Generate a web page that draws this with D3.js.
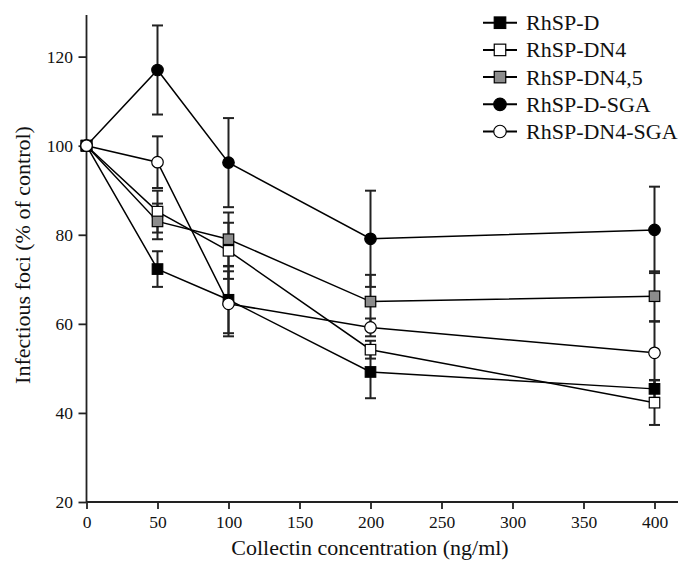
<!DOCTYPE html>
<html>
<head>
<meta charset="utf-8">
<script src="https://cdn.jsdelivr.net/npm/d3@7"></script>
<style>
  body { margin: 0; background: #fff; }
</style>
</head>
<body>
<svg width="680" height="562"></svg>
<script>
// concentrations (ng/ml)
var conc = [0, 50, 100, 200, 400];

var names = ["RhSP-D", "RhSP-DN4", "RhSP-DN4,5", "RhSP-D-SGA", "RhSP-DN4-SGA"];

// mean values (% of control)
var rhspD       = [100, 72.3, 65.4, 49.2, 45.4];
var rhspDN4     = [100, 85.2, 76.4, 54.2, 42.3];
var rhspDN45    = [100, 83.0, 79.0, 65.0, 66.2];
var rhspDSGA    = [100, 117.0, 96.2, 79.1, 81.1];
var rhspDN4SGA  = [100, 96.3, 64.5, 59.2, 53.5];

// error bars (+/-)
var errD       = [0, 4.0, 7.5, 5.9, 2.0];
var errDN4     = [0, 4.7, 6.3, 2.0, 5.0];
var errDN45    = [0, 4.0, 6.0, 6.0, 5.6];
var errDSGA    = [0, 10.0, 10.0, 10.8, 9.7];
var errDN4SGA  = [0, 5.8, 7.3, 2.0, 7.0];

var xTicks = [0, 50, 100, 150, 200, 250, 300, 350, 400];
var yTicks = [20, 40, 60, 80, 100, 120];

var series = [
  {name: names[0], vals: rhspD,      err: errD,      shape: "square", fill: "#000"},
  {name: names[1], vals: rhspDN4,    err: errDN4,    shape: "square", fill: "#fff"},
  {name: names[2], vals: rhspDN45,   err: errDN45,   shape: "square", fill: "#8c8c8c"},
  {name: names[3], vals: rhspDSGA,   err: errDSGA,   shape: "circle", fill: "#000"},
  {name: names[4], vals: rhspDN4SGA, err: errDN4SGA, shape: "circle", fill: "#fff"}
];

var serif = "'Liberation Serif', 'Times New Roman', 'DejaVu Serif', serif";

var svg = d3.select("svg");
var x0 = 86.5, yBottom = 502;

var x = d3.scaleLinear().domain([0, 400]).range([x0, 654.5]);
var y = d3.scaleLinear().domain([20, 100]).range([yBottom, 145.7]);

// axes
var xAxis = svg.append("g")
  .attr("transform", "translate(0," + yBottom + ")")
  .call(d3.axisBottom(x).tickValues(xTicks).tickSize(7).tickSizeOuter(0).tickPadding(7));
xAxis.select(".domain").attr("d", "M" + x0 + ",0H678");

var yAxis = svg.append("g")
  .attr("transform", "translate(" + x0 + ",0)")
  .call(d3.axisLeft(y).tickValues(yTicks).tickSize(8).tickSizeOuter(0).tickPadding(5.5));
yAxis.select(".domain").attr("d", "M0,15V" + yBottom);

svg.selectAll(".domain, .tick line").attr("stroke", "#222").attr("stroke-width", 1.8);
svg.selectAll(".tick text")
  .attr("fill", "#111")
  .style("font-family", serif)
  .style("font-size", "17.5px");

svg.append("text")
  .attr("x", 370).attr("y", 555)
  .attr("text-anchor", "middle")
  .style("font-family", serif)
  .style("font-size", "22px")
  .attr("fill", "#111")
  .text("Collectin concentration (ng/ml)");

svg.append("text")
  .attr("transform", "translate(30,255) rotate(-90)")
  .attr("text-anchor", "middle")
  .style("font-family", serif)
  .style("font-size", "22px")
  .attr("fill", "#111")
  .text("Infectious foci (% of control)");

var line = d3.line()
  .x(function(d, i) { return x(conc[i]); })
  .y(function(d) { return y(d); });

function marker(g, s, cx, cy, size) {
  if (s.shape === "square") {
    g.append("rect")
      .attr("x", cx - size / 2).attr("y", cy - size / 2)
      .attr("width", size).attr("height", size)
      .attr("fill", s.fill).attr("stroke", "#000").attr("stroke-width", 1.2);
  } else {
    g.append("circle")
      .attr("cx", cx).attr("cy", cy).attr("r", size / 2 + 0.5)
      .attr("fill", s.fill).attr("stroke", "#000").attr("stroke-width", 1.2);
  }
}

// lines first
series.forEach(function(s) {
  svg.append("path")
    .attr("d", line(s.vals))
    .attr("fill", "none")
    .attr("stroke", "#000")
    .attr("stroke-width", 1.5);
});

// error bars
series.forEach(function(s) {
  var g = svg.append("g").attr("stroke", "#222").attr("stroke-width", 2);
  s.vals.forEach(function(v, i) {
    if (!s.err[i]) return;
    var cx = x(conc[i]);
    var top = y(v + s.err[i]), bot = y(v - s.err[i]);
    g.append("line").attr("x1", cx).attr("x2", cx).attr("y1", top).attr("y2", bot);
    g.append("line").attr("x1", cx - 5.5).attr("x2", cx + 5.5).attr("y1", top).attr("y2", top);
    g.append("line").attr("x1", cx - 5.5).attr("x2", cx + 5.5).attr("y1", bot).attr("y2", bot);
  });
});

// markers
series.forEach(function(s) {
  var g = svg.append("g");
  s.vals.forEach(function(v, i) {
    marker(g, s, x(conc[i]), y(v), 10.5);
  });
});

// legend
var leg = svg.append("g");
series.forEach(function(s, i) {
  var ly = 22.7 + i * 27.2;
  leg.append("line")
    .attr("x1", 483).attr("x2", 517).attr("y1", ly).attr("y2", ly)
    .attr("stroke", "#000").attr("stroke-width", 2);
  marker(leg, s, 500, ly, 11.5);
  leg.append("text")
    .attr("x", 526).attr("y", ly + 7.5)
    .style("font-family", serif)
    .style("font-size", "22px")
    .attr("fill", "#111")
    .text(s.name);
});
</script>
</body>
</html>
